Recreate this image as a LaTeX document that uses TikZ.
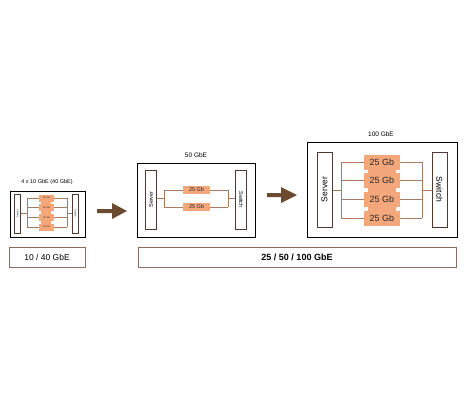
\documentclass[tikz,border=0pt]{standalone}
\usepackage{fontspec}
\setmainfont{Liberation Sans}
\definecolor{orangec}{HTML}{F5A77C}
\definecolor{linkc}{HTML}{A57C62}
\definecolor{barc}{HTML}{4E3A2E}
\definecolor{labc}{HTML}{8C6B5C}
\definecolor{arrc}{HTML}{6B4A30}
\begin{document}
\begin{tikzpicture}[x=1pt,y=-1pt,
  panel/.style={draw=black,line width=1.1pt},
  bar/.style={draw=barc,fill=white,line width=1pt,inner sep=0pt},
  lnk/.style={draw=linkc,line width=0.8pt},
  gb/.style={fill=orangec,inner sep=0pt,text=black!85},
  lab/.style={draw=labc,line width=0.9pt,inner sep=0pt},
  bigarrow/.style={draw=none,fill=arrc}]
\useasboundingbox (0,0) rectangle (464,400);
% ---------- small panel ----------
\node[panel,minimum width=75pt,minimum height=46pt,anchor=north west] (p1) at (10,190.5) {};
\node[font=\fontsize{5.5}{6}\selectfont] (t1) at (47,182) {4 x 10 GbE (40 GbE)};
\node[bar,minimum width=6.5pt,minimum height=39pt,font=\fontsize{2.5}{3}\selectfont] (sv1) at (17.5,213.5) {\rotatebox{90}{Server}};
\node[bar,minimum width=6.5pt,minimum height=39pt,font=\fontsize{2.5}{3}\selectfont] (sw1) at (75.5,213.5) {\rotatebox{-90}{Switch}};
\fill[orangec] (41,196) rectangle (51,230);
\foreach \i/\y in {1/198,2/207.7,3/217.3,4/227}{
  \node[gb,minimum width=15pt,minimum height=7pt,font=\fontsize{2.5}{3}\selectfont] (a\i) at (46.5,\y) {10 Gb};
}
\coordinate (l1t) at (27,198); \coordinate (l1b) at (27,227); \coordinate (l1m) at (27,213.5);
\coordinate (r1t) at (67,198); \coordinate (r1b) at (67,227); \coordinate (r1m) at (67,213.5);
\draw[lnk] (l1t) -- (l1b) (r1t) -- (r1b) (sv1.east |- l1m) -- (l1m) (r1m) -- (sw1.west |- r1m);
\foreach \i in {1,...,4}{\draw[lnk] (l1t |- a\i) -- (a\i.west) (a\i.east) -- (r1t |- a\i);}
\node[lab,minimum width=76pt,minimum height=20pt,font=\fontsize{8.5}{9}\selectfont] (b1) at (47,257) {10 / 40 GbE};
% ---------- medium panel ----------
\node[panel,minimum width=118pt,minimum height=74pt,anchor=north west] (p2) at (137,163) {};
\node[font=\fontsize{6.5}{7}\selectfont] (t2) at (196,155) {50 GbE};
\node[bar,minimum width=11pt,minimum height=59pt,font=\fontsize{5.5}{6}\selectfont] (sv2) at (151,199.5) {\rotatebox{90}{Server}};
\node[bar,minimum width=11pt,minimum height=59pt,font=\fontsize{5.5}{6}\selectfont] (sw2) at (241,199.5) {\rotatebox{-90}{Switch}};
\node[gb,minimum width=27pt,minimum height=7.5pt,font=\fontsize{5.5}{6}\selectfont] (c1) at (196.5,190) {25 Gb};
\node[gb,minimum width=27pt,minimum height=7.5pt,font=\fontsize{5.5}{6}\selectfont] (c2) at (196.5,207) {25 Gb};
\coordinate (l2t) at (164,190); \coordinate (l2b) at (164,207); \coordinate (l2m) at (164,198.5);
\coordinate (r2t) at (228,190); \coordinate (r2b) at (228,207); \coordinate (r2m) at (228,198.5);
\draw[lnk] (l2t) -- (l2b) (r2t) -- (r2b) (sv2.east |- l2m) -- (l2m) (r2m) -- (sw2.west |- r2m);
\foreach \i in {1,2}{\draw[lnk] (l2t |- c\i) -- (c\i.west) (c\i.east) -- (r2t |- c\i);}
% ---------- large panel ----------
\node[panel,minimum width=150pt,minimum height=95pt,anchor=north west] (p3) at (307,142) {};
\node[font=\fontsize{6.5}{7}\selectfont] (t3) at (381,134) {100 GbE};
\node[bar,minimum width=15pt,minimum height=75pt,font=\fontsize{8.5}{9}\selectfont] (sv3) at (324.5,189.5) {\rotatebox{90}{Server}};
\node[bar,minimum width=15pt,minimum height=75pt,font=\fontsize{8.5}{9}\selectfont] (sw3) at (439.5,189.5) {\rotatebox{-90}{Switch}};
\fill[orangec] (368,156) rectangle (396,224);
\foreach \i/\y in {1/162,2/180.7,3/199.3,4/218}{
  \node[gb,minimum width=36pt,minimum height=15pt,font=\fontsize{9}{10}\selectfont] (d\i) at (382,\y) {25 Gb};
}
\coordinate (l3t) at (341,162); \coordinate (l3b) at (341,218); \coordinate (l3m) at (341,190);
\coordinate (r3t) at (422,162); \coordinate (r3b) at (422,218); \coordinate (r3m) at (422,190);
\draw[lnk] (l3t) -- (l3b) (r3t) -- (r3b) (sv3.east |- l3m) -- (l3m) (r3m) -- (sw3.west |- r3m);
\foreach \i in {1,...,4}{\draw[lnk] (l3t |- d\i) -- (d\i.west) (d\i.east) -- (r3t |- d\i);}
\node[lab,minimum width=318pt,minimum height=20pt,font=\bfseries\fontsize{9}{10}\selectfont] (b2) at (297,257) {25 / 50 / 100 GbE};
% ---------- arrows ----------
\fill[arrc] (97,209) -- (112,209) -- (112,203) -- (127,211) -- (112,219) -- (112,213) -- (97,213) -- cycle;
\fill[arrc] (267,193) -- (281,193) -- (281,187) -- (297,195) -- (281,203) -- (281,197) -- (267,197) -- cycle;
\end{tikzpicture}
\end{document}
